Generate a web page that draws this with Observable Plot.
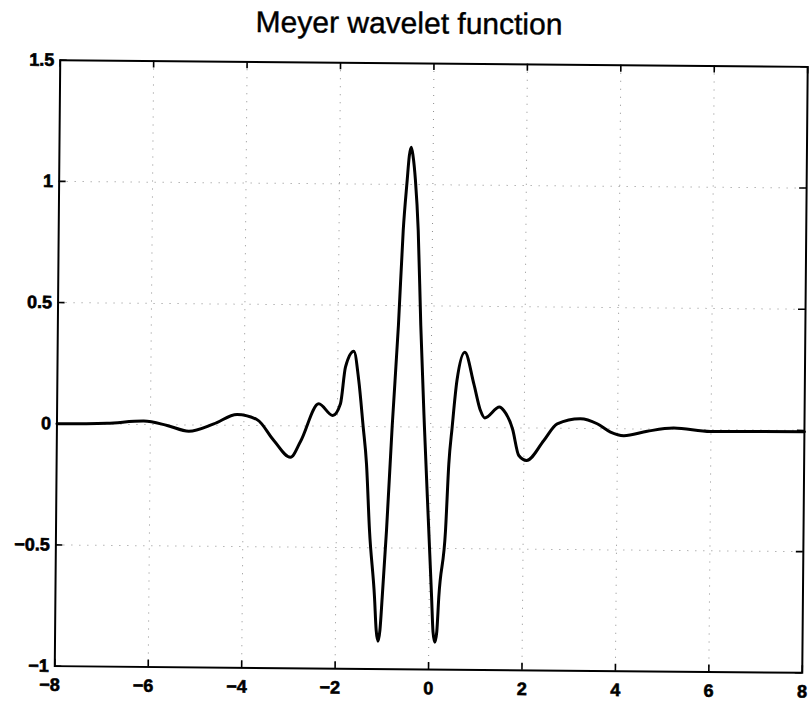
<!DOCTYPE html>
<html>
<head>
<meta charset="utf-8">
<script src="https://cdn.jsdelivr.net/npm/d3@7"></script>
<script src="https://cdn.jsdelivr.net/npm/@observablehq/plot@0.6"></script>
<style>
  html, body { margin: 0; padding: 0; background: #fff; }
  #chart { width: 809px; height: 707px; overflow: hidden; }
</style>
</head>
<body>
<div id="chart"></div>
<script>
// ---- data ----
const titleText = "Meyer wavelet function";
const xTicks = [-8, -6, -4, -2, 0, 2, 4, 6, 8];
const yTicks = [-1, -0.5, 0, 0.5, 1, 1.5];
const gridXValues = [-6, -4, -2, 0, 2, 4, 6];
const gridYValues = [-0.5, 0, 0.5, 1];

const tValues = [
  -8, -6.93, -6.142, -5.641, -5.177, -4.644, -4.145, -3.715, -3.355, -2.996,
  -2.784, -2.401, -2.099, -1.936, -1.836, -1.660, -1.549, -1.446, -1.367, -1.290,
  -1.170, -1.128, -1.088, -1.048, -1.005, -0.926, -0.825, -0.710, -0.626, -0.551,
  -0.510, -0.470, -0.430, -0.374, -0.305, -0.232, -0.134, -0.021, 0.052, 0.089,
  0.129, 0.169, 0.206, 0.337, 0.395, 0.459, 0.553, 0.716, 0.915, 1.062,
  1.155, 1.469, 1.561, 1.752, 1.891, 2.058, 2.424, 2.707, 3.205, 3.563,
  3.849, 4.134, 4.635, 5.204, 5.990, 6.916, 8
];
const psiValues = [
  0, 0.004, 0.014, -0.003, -0.026, 0.005, 0.045, 0.024, -0.061, -0.130,
  -0.064, 0.092, 0.044, 0.093, 0.244, 0.310, 0.190, 0, -0.154, -0.429,
  -0.704, -0.840, -0.885, -0.840, -0.703, -0.428, 0, 0.42, 0.81, 1.017,
  1.118, 1.154, 1.118, 1.017, 0.811, 0.42, 0, -0.427, -0.702, -0.845,
  -0.887, -0.845, -0.701, -0.426, -0.151, 0, 0.193, 0.310, 0.180, 0.070,
  0.040, 0.085, 0.071, -0.005, -0.114, -0.134, -0.051, 0.018, 0.040, 0.020,
  -0.014, -0.028, -0.009, 0.005, -0.008, -0.006, -0.005
];

// ---- layout ----
const W = 809, H = 707;
const mL = 57, mR = 4.5, mT = 63, mB = 38;
const frameW = W - mL - mR, frameH = H - mT - mB;
const tickLen = 7;
const font = "'Liberation Sans', Arial, Helvetica, sans-serif";
const fmt = d => d < 0 ? "\u2212" + Math.abs(d) : String(d);

const data = tValues.map((t, i) => ({t, psi: psiValues[i]}));

const labelStyle = {fontSize: 18, fontWeight: "bold", fill: "#000", tickSize: 0, tickFormat: fmt};

const svg = Plot.plot({
  width: W, height: H,
  marginLeft: mL, marginRight: mR, marginTop: mT, marginBottom: mB,
  style: {fontFamily: font, fontSize: "18px", background: "#fff", color: "#000", overflow: "visible"},
  x: {domain: [-8, 8], label: null},
  y: {domain: [-1, 1.5], label: null},
  marks: [
    Plot.gridX(gridXValues, {stroke: "#000", strokeOpacity: 0.45, strokeWidth: 1, strokeDasharray: "1,7"}),
    Plot.gridY(gridYValues, {stroke: "#000", strokeOpacity: 0.45, strokeWidth: 1, strokeDasharray: "1,7"}),
    Plot.line(data, {x: "t", y: "psi", curve: "monotone-x", stroke: "#000", strokeWidth: 3}),
    // inward ticks on all four sides
    Plot.tickX(xTicks, {x: d => d, insetTop: frameH - tickLen, stroke: "#000", strokeWidth: 1.6}),
    Plot.tickX(xTicks, {x: d => d, insetBottom: frameH - tickLen, stroke: "#000", strokeWidth: 1.6}),
    Plot.tickY(yTicks, {y: d => d, insetRight: frameW - tickLen, stroke: "#000", strokeWidth: 1.6}),
    Plot.tickY(yTicks, {y: d => d, insetLeft: frameW - tickLen, stroke: "#000", strokeWidth: 1.6}),
    Plot.frame({stroke: "#000", strokeWidth: 2}),
    Plot.axisX(xTicks.filter(d => d < 0), {...labelStyle, anchor: "bottom", tickPadding: 12, dx: -5}),
    Plot.axisX(xTicks.filter(d => d >= 0), {...labelStyle, anchor: "bottom", tickPadding: 12}),
    Plot.axisY(yTicks, {...labelStyle, anchor: "left", tickPadding: 6})
  ]
});

// heavier tick labels, like the scanned original
d3.select(svg).selectAll("text")
  .attr("stroke", "#000")
  .attr("stroke-width", 0.6);

// title as real text inside the same svg
d3.select(svg).append("text")
  .attr("x", 406).attr("y", 33.5)
  .attr("text-anchor", "middle")
  .attr("font-family", font)
  .attr("font-size", 30)
  .attr("fill", "#000")
  .attr("stroke", "#000")
  .attr("stroke-width", 0.4)
  .text(titleText);

// the reference scan is slightly rotated clockwise
svg.style.transformOrigin = "431px 366px";
svg.style.transform = "rotate(0.516deg)";

document.getElementById("chart").appendChild(svg);
</script>
</body>
</html>
